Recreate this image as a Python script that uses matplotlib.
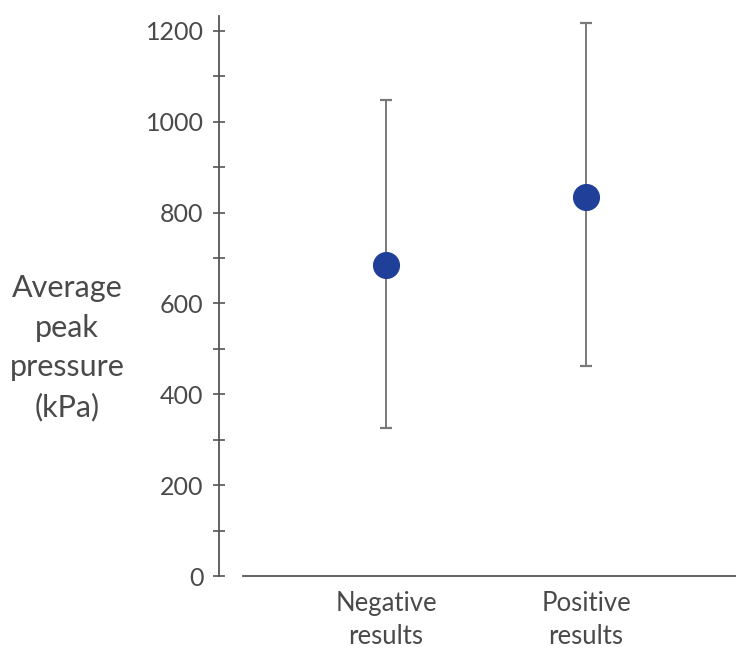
import matplotlib
matplotlib.use("Agg")
import matplotlib.pyplot as plt

categories = ["Negative\nresults", "Positive\nresults"]
means = [685, 834]
lower = [326, 462]
upper = [1048, 1218]
yticks = [0, 200, 400, 600, 800, 1000, 1200]
ylabel = "Average\npeak\npressure\n(kPa)"

plt.rcParams['font.family'] = ['Lato', 'DejaVu Sans']
txt = "#4a4a4a"

fig = plt.figure(figsize=(7.36, 6.48), dpi=100)
ax = fig.add_axes([219/736, 72/648, 1 - 219/736, (576-16)/648])

x = [1, 2]
err_lo = [m - l for m, l in zip(means, lower)]
err_hi = [u - m for m, u in zip(means, upper)]
ax.errorbar(x, means, yerr=[err_lo, err_hi], fmt='none', ecolor="#7a7a7a",
            elinewidth=1.4, capsize=4, capthick=1.6, zorder=2)
ax.plot(x, means, 'o', color="#1f3f99", markersize=18.5, zorder=3)

ax.set_xlim(0.165, 2.75)
ax.set_ylim(0, 1233)
ax.set_xticks(x)
ax.set_xticklabels(categories, fontsize=18.5, color=txt, linespacing=1.4)
ax.set_yticks(yticks)
ax.set_yticks(range(100, 1300, 200), minor=True)
ax.set_yticklabels([str(v) for v in yticks], fontsize=18, color=txt)
ax.tick_params(axis='y', which='both', direction='inout', length=8, width=1.2, color="#555555", pad=7)
ax.tick_params(axis='x', length=0, pad=11)

for s in ['top', 'right']:
    ax.spines[s].set_visible(False)
ax.spines['left'].set_color("#555555")
ax.spines['left'].set_linewidth(1.3)
ax.spines['bottom'].set_color("#555555")
ax.spines['bottom'].set_linewidth(1.3)
ax.spines['bottom'].set_bounds(0.285, 2.75)

fig.text(67/736, 1 - 348/648, ylabel, ha='center', va='center', fontsize=22,
         color=txt, linespacing=1.5)

fig.savefig("out.png", dpi=100)
